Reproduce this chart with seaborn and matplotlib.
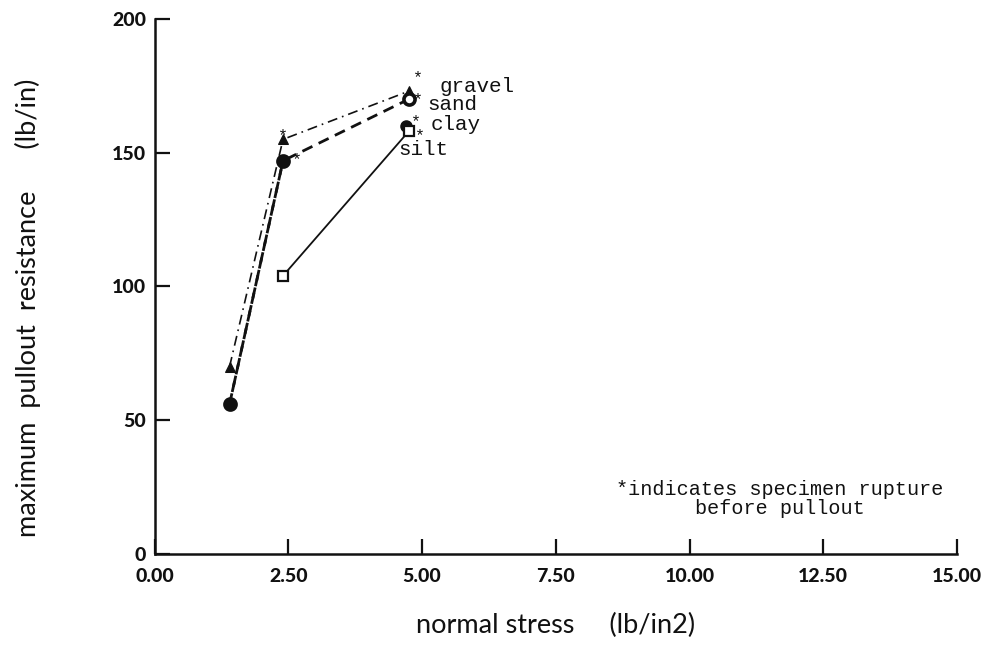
import matplotlib
matplotlib.use("Agg")
import matplotlib.pyplot as plt
import seaborn as sns

# Pullout test results: normal stress (lb/in2) vs maximum pullout resistance (lb/in)
gravel_x = [1.4, 2.4, 4.75]
gravel_y = [70, 155, 173]
sand_x = [1.4, 2.4, 4.75]
sand_y = [56, 147, 170]
clay_x = [1.4, 2.4, 4.7]
clay_y = [56, 147, 160]
silt_x = [2.4, 4.75]
silt_y = [104, 158]

soil_names = ["gravel", "sand", "clay", "silt"]
x_ticks = [0, 2.5, 5, 7.5, 10, 12.5, 15]
x_tick_labels = ["0.00", "2.50", "5.00", "7.50", "10.00", "12.50", "15.00"]
y_ticks = [0, 50, 100, 150, 200]
y_tick_labels = ["0", "50", "100", "150", "200"]

sns.set_theme(style="white")
plt.rcParams["font.family"] = ["Lato", "DejaVu Sans"]

fig = plt.figure(figsize=(9.85, 6.5), dpi=100)
ax = fig.add_axes([0.157, 0.1477, 0.8146, 0.8231])

black = "#111111"

sns.lineplot(x=gravel_x, y=gravel_y, ax=ax, color=black, linestyle=(0, (6, 3, 1, 3)),
             linewidth=1.2, marker="^", markersize=7, markerfacecolor=black,
             markeredgecolor=black, sort=False, estimator=None)
sns.lineplot(x=sand_x, y=sand_y, ax=ax, color=black, linestyle=(0, (4, 2.5)),
             linewidth=2.0, marker="o", markersize=8, markerfacecolor="white",
             markeredgecolor=black, markeredgewidth=2.6, sort=False, estimator=None)
sns.lineplot(x=clay_x[:2], y=clay_y[:2], ax=ax, color=black, linestyle=(2, (4, 2.5)),
             linewidth=2.0, sort=False, estimator=None)
ax.plot(clay_x, clay_y, linestyle="none", marker="o", markersize=8,
        color=black)
sns.lineplot(x=silt_x, y=silt_y, ax=ax, color=black, linestyle="-",
             linewidth=1.3, marker="s", markersize=7, markerfacecolor="white",
             markeredgecolor=black, markeredgewidth=1.6, sort=False, estimator=None)

# asterisks mark specimens that ruptured before pullout
star_kw = dict(textcoords="offset points", ha="center", va="center",
               fontsize=12, family="Liberation Mono", color=black)
ax.annotate("*", xy=(gravel_x[1], gravel_y[1]), xytext=(0, 3), **star_kw)
ax.annotate("*", xy=(sand_x[1], sand_y[1]), xytext=(10, 1), **star_kw)
ax.annotate("*", xy=(gravel_x[2], gravel_y[2]), xytext=(7, 10), **star_kw)
ax.annotate("*", xy=(sand_x[2], sand_y[2]), xytext=(7, 0), **star_kw)
ax.annotate("*", xy=(clay_x[2], clay_y[2]), xytext=(7, 3), **star_kw)
ax.annotate("*", xy=(silt_x[1], silt_y[1]), xytext=(8, -3), **star_kw)

# series names at the line ends
label_kw = dict(fontsize=15, family="Liberation Mono", color=black, va="center", ha="left")
ax.text(5.33, 174.6, soil_names[0], **label_kw)
ax.text(5.09, 167.9, soil_names[1], **label_kw)
ax.text(5.16, 160.4, soil_names[2], **label_kw)
ax.text(4.56, 151.2, soil_names[3], **label_kw)

ax.text(11.69, 27.5, "*indicates specimen rupture\nbefore pullout", fontsize=14.5,
        family="Liberation Mono", color=black, ha="center", va="top",
        multialignment="center", linespacing=0.95)

ax.set_xlim(0, 15)
ax.set_ylim(0, 200)
ax.set_xticks(x_ticks)
ax.set_xticklabels(x_tick_labels)
ax.set_yticks(y_ticks)
ax.set_yticklabels(y_tick_labels)

for side in ["top", "right"]:
    ax.spines[side].set_visible(False)
for side in ["left", "bottom"]:
    ax.spines[side].set_color(black)
    ax.spines[side].set_linewidth(1.8)

ax.tick_params(axis="both", direction="in", length=11, width=1.6, color=black,
               labelsize=14, labelcolor=black, bottom=True, left=True)
ax.tick_params(axis="x", pad=10)
ax.tick_params(axis="y", pad=6)
for lab in ax.get_xticklabels() + ax.get_yticklabels():
    lab.set_fontweight("black")

ax.set_xlabel("normal stress     (lb/in2)", fontsize=19.5, color=black, labelpad=20)
ax.set_ylabel("maximum  pullout  resistance      (lb/in)", fontsize=19.5, color=black)
ax.yaxis.set_label_coords(-0.142, 0.46)

fig.savefig("out.png", dpi=100)
